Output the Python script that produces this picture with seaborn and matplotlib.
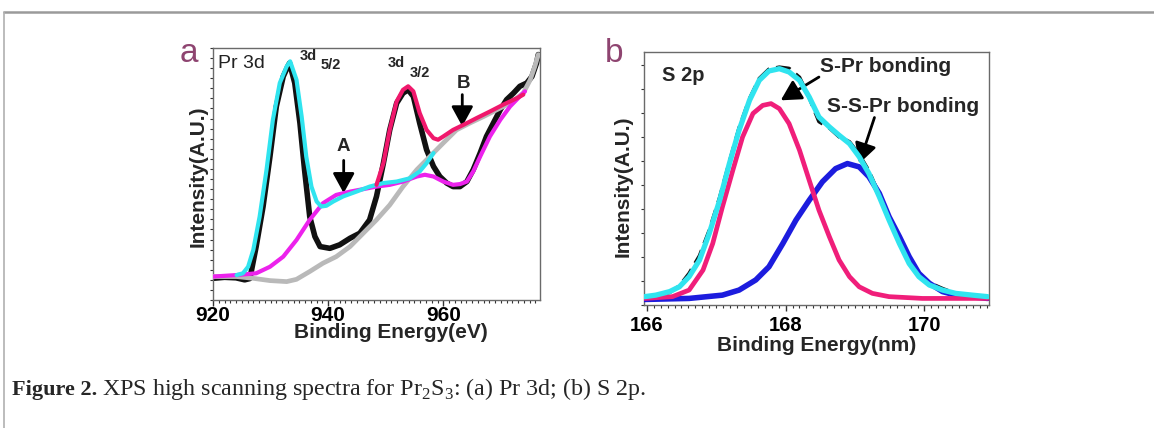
import matplotlib
matplotlib.use("Agg")
import matplotlib.pyplot as plt
import seaborn as sns
import pandas as pd
from matplotlib.ticker import MultipleLocator, FixedLocator
from matplotlib.patches import ArrowStyle

sns.set_style("ticks")
plt.rcParams["font.family"] = ["Liberation Sans", "DejaVu Sans"]
plt.rcParams["mathtext.fontset"] = "custom"
plt.rcParams["mathtext.rm"] = "Liberation Serif"

# ---------------- Panel a: Pr 3d ----------------
pr_data_e = [920.0, 922.0, 924.0, 925.5, 926.4, 926.7, 927.5, 928.7, 929.9, 931.0, 932.2, 933.0,
             933.3, 934.2, 935.1, 935.9, 936.8, 937.7, 938.6, 940.3, 942.0, 943.8, 945.5, 947.2,
             948.4, 949.6, 950.7, 951.9, 953.0, 953.9, 954.8, 955.9, 957.1, 958.3, 959.4, 960.6,
             961.7, 962.9, 964.1, 965.2, 966.4, 967.5, 968.7, 969.9, 971.0, 972.2, 973.3, 974.5,
             975.4, 976.2, 976.5]
pr_data_i = [8.6, 9.0, 8.8, 8.0, 8.5, 11.9, 21.2, 37.1, 57.0, 76.8, 88.7, 92.7,
             94.0, 86.1, 70.2, 51.7, 33.1, 25.2, 21.2, 20.5, 21.9, 24.5, 26.5, 31.8,
             41.1, 54.3, 67.5, 78.1, 82.1, 83.4, 80.8, 70.2, 59.6, 53.0, 49.0, 46.4,
             45.0, 45.0, 47.0, 51.7, 58.3, 64.9, 70.2, 75.5, 79.5, 82.1, 84.8, 86.1,
             88.7, 94.0, 97.4]

pr_fit1_e = [924.1, 925.2, 926.1, 927.0, 928.1, 929.3, 930.4, 931.6, 932.8, 933.4, 934.5, 935.4,
             936.2, 937.1, 938.0, 938.8, 939.7, 940.9, 942.6, 944.9, 947.2, 949.6, 951.9, 954.2,
             955.9, 957.1, 958.3]
pr_fit1_i = [9.9, 10.6, 13.2, 19.9, 33.1, 51.7, 71.5, 86.1, 92.7, 94.7, 87.4, 72.8,
             56.9, 45.0, 39.1, 37.1, 37.4, 39.1, 41.1, 43.0, 45.0, 46.4, 47.0, 48.3,
             51.0, 54.3, 58.3]

pr_fit2_e = [948.4, 949.6, 950.7, 951.9, 953.0, 953.9, 954.8, 955.9, 957.1, 958.3, 959.1, 960.0,
             961.7, 963.5, 965.8, 968.1, 970.4, 972.8, 973.9]
pr_fit2_i = [45.7, 54.3, 67.5, 78.8, 83.4, 84.8, 82.8, 74.2, 67.5, 64.2, 63.6, 64.9,
             67.5, 69.5, 72.2, 74.8, 77.5, 80.1, 81.5]

pr_sat_e = [920.0, 924.1, 927.5, 929.9, 932.2, 934.5, 936.8, 939.1, 941.4, 943.8, 946.1, 948.4,
            950.7, 953.0, 955.4, 956.8, 958.3, 960.0, 961.7, 962.9, 964.1, 965.2, 966.4, 968.1,
            969.9, 971.6, 973.3, 974.2]
pr_sat_i = [9.3, 9.9, 10.6, 13.2, 17.2, 23.8, 31.8, 38.4, 41.7, 43.0, 44.0, 45.0,
            45.7, 47.0, 49.0, 49.7, 49.0, 47.0, 45.7, 46.0, 47.0, 51.0, 56.9, 64.9,
            71.5, 76.8, 80.8, 82.8]

pr_bg_e = [920.0, 924.1, 927.0, 929.9, 932.8, 934.5, 936.8, 939.1, 941.4, 943.8, 946.1, 948.4,
           950.7, 953.0, 955.4, 957.7, 960.0, 962.3, 964.6, 967.0, 969.3, 971.6, 973.9, 975.1,
           975.9, 976.5]
pr_bg_i = [9.3, 9.3, 8.6, 7.7, 7.3, 8.2, 11.3, 14.6, 17.2, 21.2, 26.5, 31.8,
           37.7, 45.0, 51.7, 57.0, 62.3, 67.5, 70.2, 72.8, 75.5, 78.1, 82.1, 87.4,
           92.7, 97.4]

pr_xticks = [920, 940, 960]

# ---------------- Panel b: S 2p ----------------
s_data_e = [165.97, 166.13, 166.33, 166.47, 166.61, 166.76, 166.90, 167.05, 167.19, 167.33, 167.48,
            167.62, 167.76, 167.91, 168.05, 168.20, 168.34, 168.48, 168.63, 168.77, 168.92, 169.06,
            169.20, 169.35, 169.49, 169.64, 169.78, 169.92, 170.07, 170.26, 170.45, 170.69, 170.91]
s_data_i = [3.0, 3.6, 5.0, 7.5, 12.5, 19.5, 29.5, 42.5, 56.5, 70.0, 81.5,
            89.5, 93.2, 94.0, 93.5, 90.0, 82.0, 72.5, 70.0, 66.5, 64.5, 59.5,
            53.0, 43.5, 34.0, 25.0, 17.5, 12.0, 8.8, 6.5, 4.5, 3.5, 3.0]

s_env_e = s_data_e
s_env_i = [3.3, 3.9, 5.3, 7.2, 11.2, 17.8, 28.3, 41.4, 55.9, 69.1, 80.9,
           88.8, 92.5, 93.4, 92.1, 88.8, 82.2, 74.3, 70.4, 67.1, 63.8, 58.6,
           52.0, 42.8, 33.6, 24.3, 16.4, 11.2, 7.9, 5.9, 4.6, 3.9, 3.3]

s_spr_e = [165.97, 166.37, 166.61, 166.81, 166.95, 167.09, 167.24, 167.38, 167.53, 167.67, 167.79,
           167.91, 168.05, 168.20, 168.34, 168.48, 168.63, 168.77, 168.92, 169.06, 169.25, 169.49,
           169.97, 170.91]
s_spr_i = [2.6, 3.3, 5.9, 13.8, 24.3, 38.8, 53.3, 66.4, 75.7, 78.9, 79.6,
           77.6, 71.7, 61.2, 49.3, 37.5, 27.0, 17.8, 11.2, 7.2, 4.6, 3.3,
           2.6, 2.6]

s_sspr_e = [165.97, 166.61, 167.09, 167.33, 167.57, 167.76, 167.96, 168.15, 168.34, 168.53, 168.72,
            168.89, 169.06, 169.20, 169.35, 169.49, 169.64, 169.78, 169.92, 170.07, 170.26, 170.45,
            170.91]
s_sspr_i = [2.2, 2.6, 3.9, 5.9, 9.9, 15.1, 24.3, 33.6, 41.4, 48.7, 53.9,
            55.9, 54.6, 50.7, 44.1, 34.9, 27.0, 19.1, 12.5, 8.6, 5.3, 3.9,
            2.6]

s_xticks = [166, 168, 170]

CYAN = "#30e4ef"
RED = "#f0186c"
MAGENTA = "#ec22ec"
GRAY = "#b9b9b9"
BLUE = "#1c1cde"
PINK = "#f01e7a"
LETTER = "#8e4470"

fig = plt.figure(figsize=(11.54, 4.28), dpi=100)
axa = fig.add_axes([213 / 1154, 1 - 300 / 428, 327 / 1154, 252 / 428])
axb = fig.add_axes([644 / 1154, 1 - 305 / 428, 345 / 1154, 253 / 428])


def line(ax, xs, ys, color, lw, ls="-", z=2):
    df = pd.DataFrame({"x": xs, "y": ys})
    sns.lineplot(data=df, x="x", y="y", ax=ax, color=color, lw=lw, ls=ls,
                 sort=False, estimator=None, zorder=z, solid_joinstyle="round",
                 solid_capstyle="round")


line(axa, pr_data_e, pr_data_i, "#111111", 4.0, z=2)
line(axa, pr_bg_e, pr_bg_i, GRAY, 3.4, z=3)
line(axa, pr_sat_e, pr_sat_i, MAGENTA, 3.0, z=4)
line(axa, pr_fit1_e, pr_fit1_i, CYAN, 3.0, z=5)
line(axa, pr_fit2_e, pr_fit2_i, RED, 3.0, z=5)

line(axb, s_data_e, s_data_i, "#111111", 2.6, ls=(0, (4, 2)), z=2)
line(axb, s_sspr_e, s_sspr_i, BLUE, 4.0, z=3)
line(axb, s_spr_e, s_spr_i, PINK, 3.4, z=4)
line(axb, s_env_e, s_env_i, CYAN, 3.8, z=5)

for ax in (axa, axb):
    ax.set_ylim(0, 100)
    for s in ax.spines.values():
        s.set_color("#6a6a6a")
        s.set_linewidth(1.0)
    ax.tick_params(axis="both", which="both", direction="out", colors="#333333",
                   labelcolor="black")
    ax.tick_params(axis="x", which="major", length=4, width=1, labelsize=15)
    ax.tick_params(axis="x", which="minor", length=2.5, width=0.8)
    ax.tick_params(axis="y", which="both", length=2.5, width=0.8, labelleft=False)

axa.set_xlim(920, 976.8)
axa.xaxis.set_major_locator(FixedLocator(pr_xticks))
axa.xaxis.set_minor_locator(MultipleLocator(1))
axa.yaxis.set_major_locator(MultipleLocator(4))
axa.set_xticklabels([str(t) for t in pr_xticks], fontweight="bold", fontsize=15)
axa.tick_params(axis="x", which="major", pad=0)

axb.set_xlim(165.96, 170.93)
axb.xaxis.set_major_locator(FixedLocator(s_xticks))
axb.xaxis.set_minor_locator(MultipleLocator(0.1))
axb.yaxis.set_major_locator(MultipleLocator(9.5))
axb.set_xticklabels([str(t) for t in s_xticks], fontweight="bold", fontsize=14.5)
axb.tick_params(axis="x", which="major", pad=4)

axa.set_xlabel("Binding Energy(eV)", fontsize=15, fontweight="bold")
axa.xaxis.set_label_coords(0.543, -0.093)
axa.set_ylabel("Intensity(A.U.)", fontsize=15, fontweight="bold")
axa.yaxis.set_label_coords(-0.015, 0.492)

axb.set_xlabel("Binding Energy(nm)", fontsize=15, fontweight="bold")
axb.xaxis.set_label_coords(0.5, -0.123)
axb.set_ylabel("Intensity(A.U.)", fontsize=15, fontweight="bold")
axb.yaxis.set_label_coords(-0.032, 0.468)

# panel a annotations
axa.text(924.9, 93.8, "Pr 3d", fontsize=14, ha="center", va="center", color="#222222")
axa.text(936.5, 97.0, "3d", fontsize=10.5, fontweight="bold", ha="center", va="center")
axa.text(940.5, 93.4, "5/2", fontsize=10.5, fontweight="bold", ha="center", va="center")
axa.text(951.8, 94.0, "3d", fontsize=10.5, fontweight="bold", ha="center", va="center")
axa.text(955.9, 90.1, "3/2", fontsize=10.5, fontweight="bold", ha="center", va="center")
astyle = ArrowStyle("-|>", head_length=0.55, head_width=0.3)
axa.text(942.6, 60.9, "A", fontsize=13.5, fontweight="bold", ha="center", va="center")
axa.annotate("", xy=(942.7, 42.4), xytext=(942.7, 55.4),
             arrowprops=dict(arrowstyle=astyle, lw=2, color="black", mutation_scale=22,
                             shrinkA=0, shrinkB=0))
axa.text(963.5, 86.1, "B", fontsize=13.5, fontweight="bold", ha="center", va="center")
axa.annotate("", xy=(963.3, 68.9), xytext=(963.3, 81.5),
             arrowprops=dict(arrowstyle=astyle, lw=2, color="black", mutation_scale=22,
                             shrinkA=0, shrinkB=0))

# panel b annotations
axb.text(166.52, 90.8, "S 2p", fontsize=14.5, fontweight="bold", ha="center", va="center")
axb.text(168.49, 94.1, "S-Pr bonding", fontsize=15, fontweight="bold", ha="left", va="center")
axb.annotate("", xy=(167.93, 80.9), xytext=(168.48, 90.1),
             arrowprops=dict(arrowstyle=astyle, lw=2, color="black", mutation_scale=22,
                             shrinkA=0, shrinkB=0))
axb.text(168.59, 78.3, "S-S-Pr bonding", fontsize=15, fontweight="bold", ha="left", va="center")
axb.annotate("", xy=(169.06, 55.9), xytext=(169.28, 74.1),
             arrowprops=dict(arrowstyle=astyle, lw=2, color="black", mutation_scale=22,
                             shrinkA=0, shrinkB=0))

# panel letters
fig.text(180 / 1154, 1 - 62 / 428, "a", fontsize=24, color=LETTER, ha="left", va="baseline")
fig.text(605 / 1154, 1 - 62 / 428, "b", fontsize=24, color=LETTER, ha="left", va="baseline")

# frame lines
fig.add_artist(plt.Line2D([4 / 1154, 1], [1 - 12 / 428, 1 - 12 / 428], color="#9a9a9a", lw=1.8))
fig.add_artist(plt.Line2D([4 / 1154, 4 / 1154], [0, 1 - 12 / 428], color="#b0b0b0", lw=1.2))

# caption
cap_y = 1 - 395 / 428
t1 = fig.text(12 / 1154, cap_y, "Figure 2.", fontsize=16, fontweight="bold",
              family="Liberation Serif", ha="left", va="baseline")
fig.canvas.draw()
bb = t1.get_window_extent(renderer=fig.canvas.get_renderer())
x2 = (bb.x1 + 5) / fig.bbox.width
fig.text(x2, cap_y, r"XPS high scanning spectra for Pr$_{\mathrm{2}}$S$_{\mathrm{3}}$: (a) Pr 3d; (b) S 2p.",
         fontsize=17.3, family="Liberation Serif", ha="left", va="baseline")

fig.savefig("out.png", dpi=100)
